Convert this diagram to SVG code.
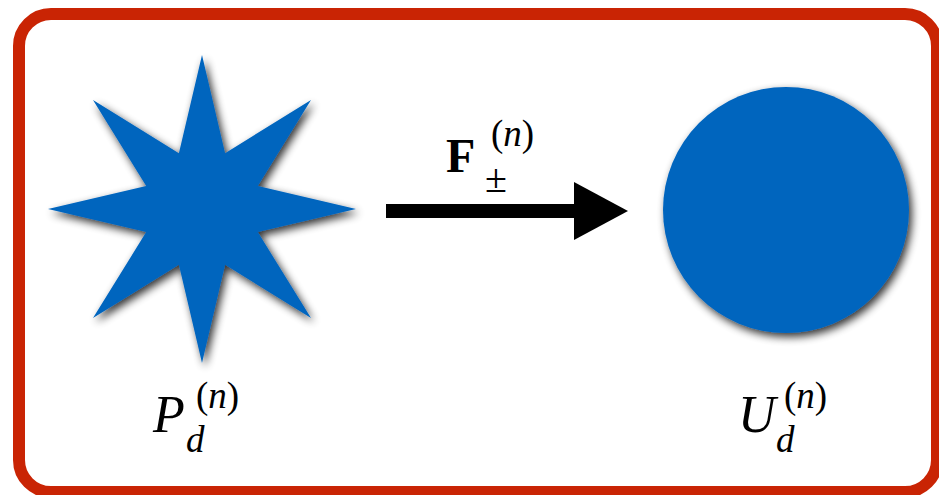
<svg xmlns="http://www.w3.org/2000/svg" width="939" height="495" viewBox="0 0 939 495">
<style>
.shape{fill:#0565BE;filter:url(#sh)}
.m{font-family:"Liberation Serif","DejaVu Serif",serif;fill:#000}
.it{font-style:italic}
</style>
<defs>
<filter id="sh" x="-20%" y="-20%" width="140%" height="140%">
<feGaussianBlur in="SourceAlpha" stdDeviation="4"/>
<feOffset dx="3" dy="4" result="b"/>
<feComponentTransfer><feFuncA type="linear" slope="0.8"/></feComponentTransfer>
<feMerge><feMergeNode/><feMergeNode in="SourceGraphic"/></feMerge>
</filter>
<marker id="ah" markerUnits="userSpaceOnUse" markerWidth="56" markerHeight="58" refX="2" refY="29" orient="auto">
<path d="M0 0 L54 29 L0 58 Z" fill="#000"/>
</marker>
</defs>
<rect width="939" height="495" fill="#fff"/>
<rect x="19" y="14" width="918" height="478" rx="32" fill="none" stroke="#C92404" stroke-width="12"/>
<g id="star">
<polygon class="shape" points="202,55 225.1,153.2 311.0,100.0 257.8,185.9 356,209 257.8,232.1 311.0,318.0 225.1,264.8 202,363 178.9,264.8 93.0,318.0 146.2,232.1 48,209 146.2,185.9 93.0,100.0 178.9,153.2"/>
<text class="m" x="153" y="432"><tspan class="it" font-size="52">P</tspan><tspan class="it" font-size="37" x="186" y="452">d</tspan><tspan font-size="37" x="196" y="408">(</tspan><tspan class="it" font-size="37">n</tspan><tspan font-size="37">)</tspan></text>
</g>
<g id="circle">
<circle class="shape" cx="786" cy="210" r="123"/>
<text class="m" x="738" y="432"><tspan class="it" font-size="52">U</tspan><tspan class="it" font-size="37" x="776" y="452">d</tspan><tspan font-size="37" x="784" y="408">(</tspan><tspan class="it" font-size="37">n</tspan><tspan font-size="37">)</tspan></text>
</g>
<g id="connectors">
<line x1="386" y1="211" x2="576" y2="211" stroke="#000" stroke-width="14" marker-end="url(#ah)"/>
<text class="m" x="446" y="172"><tspan font-weight="bold" font-size="48">F</tspan><tspan font-size="40" x="485" y="192">±</tspan></text>
<text class="m" x="491" y="146"><tspan font-size="37">(</tspan><tspan class="it" font-size="37">n</tspan><tspan font-size="37">)</tspan></text>
</g>
</svg>
